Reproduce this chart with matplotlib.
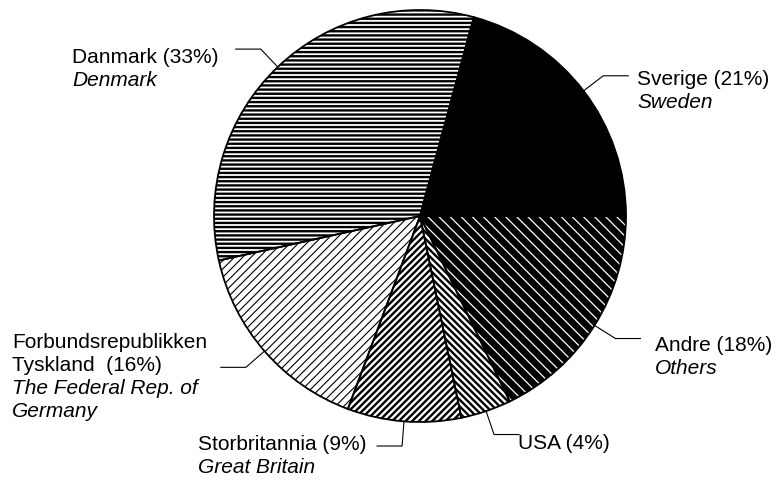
import numpy as np
import matplotlib.pyplot as plt

plt.rcParams['font.family'] = ['Liberation Sans', 'DejaVu Sans']

# shares in percent, clockwise from the 3 o'clock line upwards
countries = ['Sverige', 'Andre', 'USA', 'Storbritannia', 'Tyskland', 'Danmark']
shares = [21, 18, 4, 9, 16, 33]
labels_no = ['Sverige (21%)', 'Andre (18%)', 'USA (4%)', 'Storbritannia (9%)',
             'Forbundsrepublikken\nTyskland  (16%)', 'Danmark (33%)']
labels_en = ['Sweden', 'Others', '', 'Great Britain',
             'The Federal Rep. of\nGermany', 'Denmark']

# fill styles: (face, hatch, hatch colour, hatch linewidth)
styles = [('black', '', 'black', 1.0),
          ('black', '\\' * 3, 'white', 0.9),
          ('white', '\\' * 5, 'black', 1.7),
          ('white', '/' * 5, 'black', 1.7),
          ('white', '/' * 4, 'black', 0.8),
          ('white', '----', 'black', 1.7)]

# text anchors in pixels (left x, first baseline from top)
text_pos = [(637, 85), (655, 351), (518, 449), (198, 450), (12, 348), (72, 63)]

W, H = 779, 486
fig = plt.figure(figsize=(W / 100, H / 100), dpi=100)
ax = fig.add_axes([0, 0, 1, 1])

center = (420, H - 216)
R = 206
start = 360 * shares[0] / sum(shares)

wedges, _ = ax.pie(shares, startangle=start, counterclock=False,
                   center=center, radius=R, wedgeprops=dict(linewidth=0))
for w, (face, hatch, hcol, hlw) in zip(wedges, styles):
    w.set_facecolor(face)
    w.set_edgecolor(hcol)
    w.set_linewidth(0)
    w.set_hatch(hatch)
    if hasattr(w, 'set_hatch_linewidth'):
        w.set_hatch_linewidth(hlw)

# outlines
ax.pie(shares, startangle=start, counterclock=False, center=center, radius=R,
       wedgeprops=dict(fill=False, edgecolor='black', linewidth=1.3))

# leader lines
for w in wedges:
    mid = np.deg2rad((w.theta1 + w.theta2) / 2)
    x0, y0 = center[0] + R * np.cos(mid), center[1] + R * np.sin(mid)
    x1, y1 = center[0] + 1.12 * R * np.cos(mid), center[1] + 1.12 * R * np.sin(mid)
    x2 = x1 + (25 if np.cos(mid) > 0 else -25)
    ax.plot([x0, x1, x2], [y0, y1, y1], color='black', lw=0.8)

step = 23
for no, en, (tx, ty) in zip(labels_no, labels_en, text_pos):
    k = 0
    for line in no.split('\n'):
        ax.text(tx, H - ty - k * step, line, fontsize=15, va='baseline', ha='left')
        k += 1
    if en:
        for line in en.split('\n'):
            ax.text(tx, H - ty - k * step, line, fontsize=15, va='baseline',
                    ha='left', style='italic')
            k += 1

ax.set_xlim(0, W)
ax.set_ylim(0, H)
ax.set_aspect('equal')
ax.axis('off')

fig.savefig('out.png', dpi=100)
